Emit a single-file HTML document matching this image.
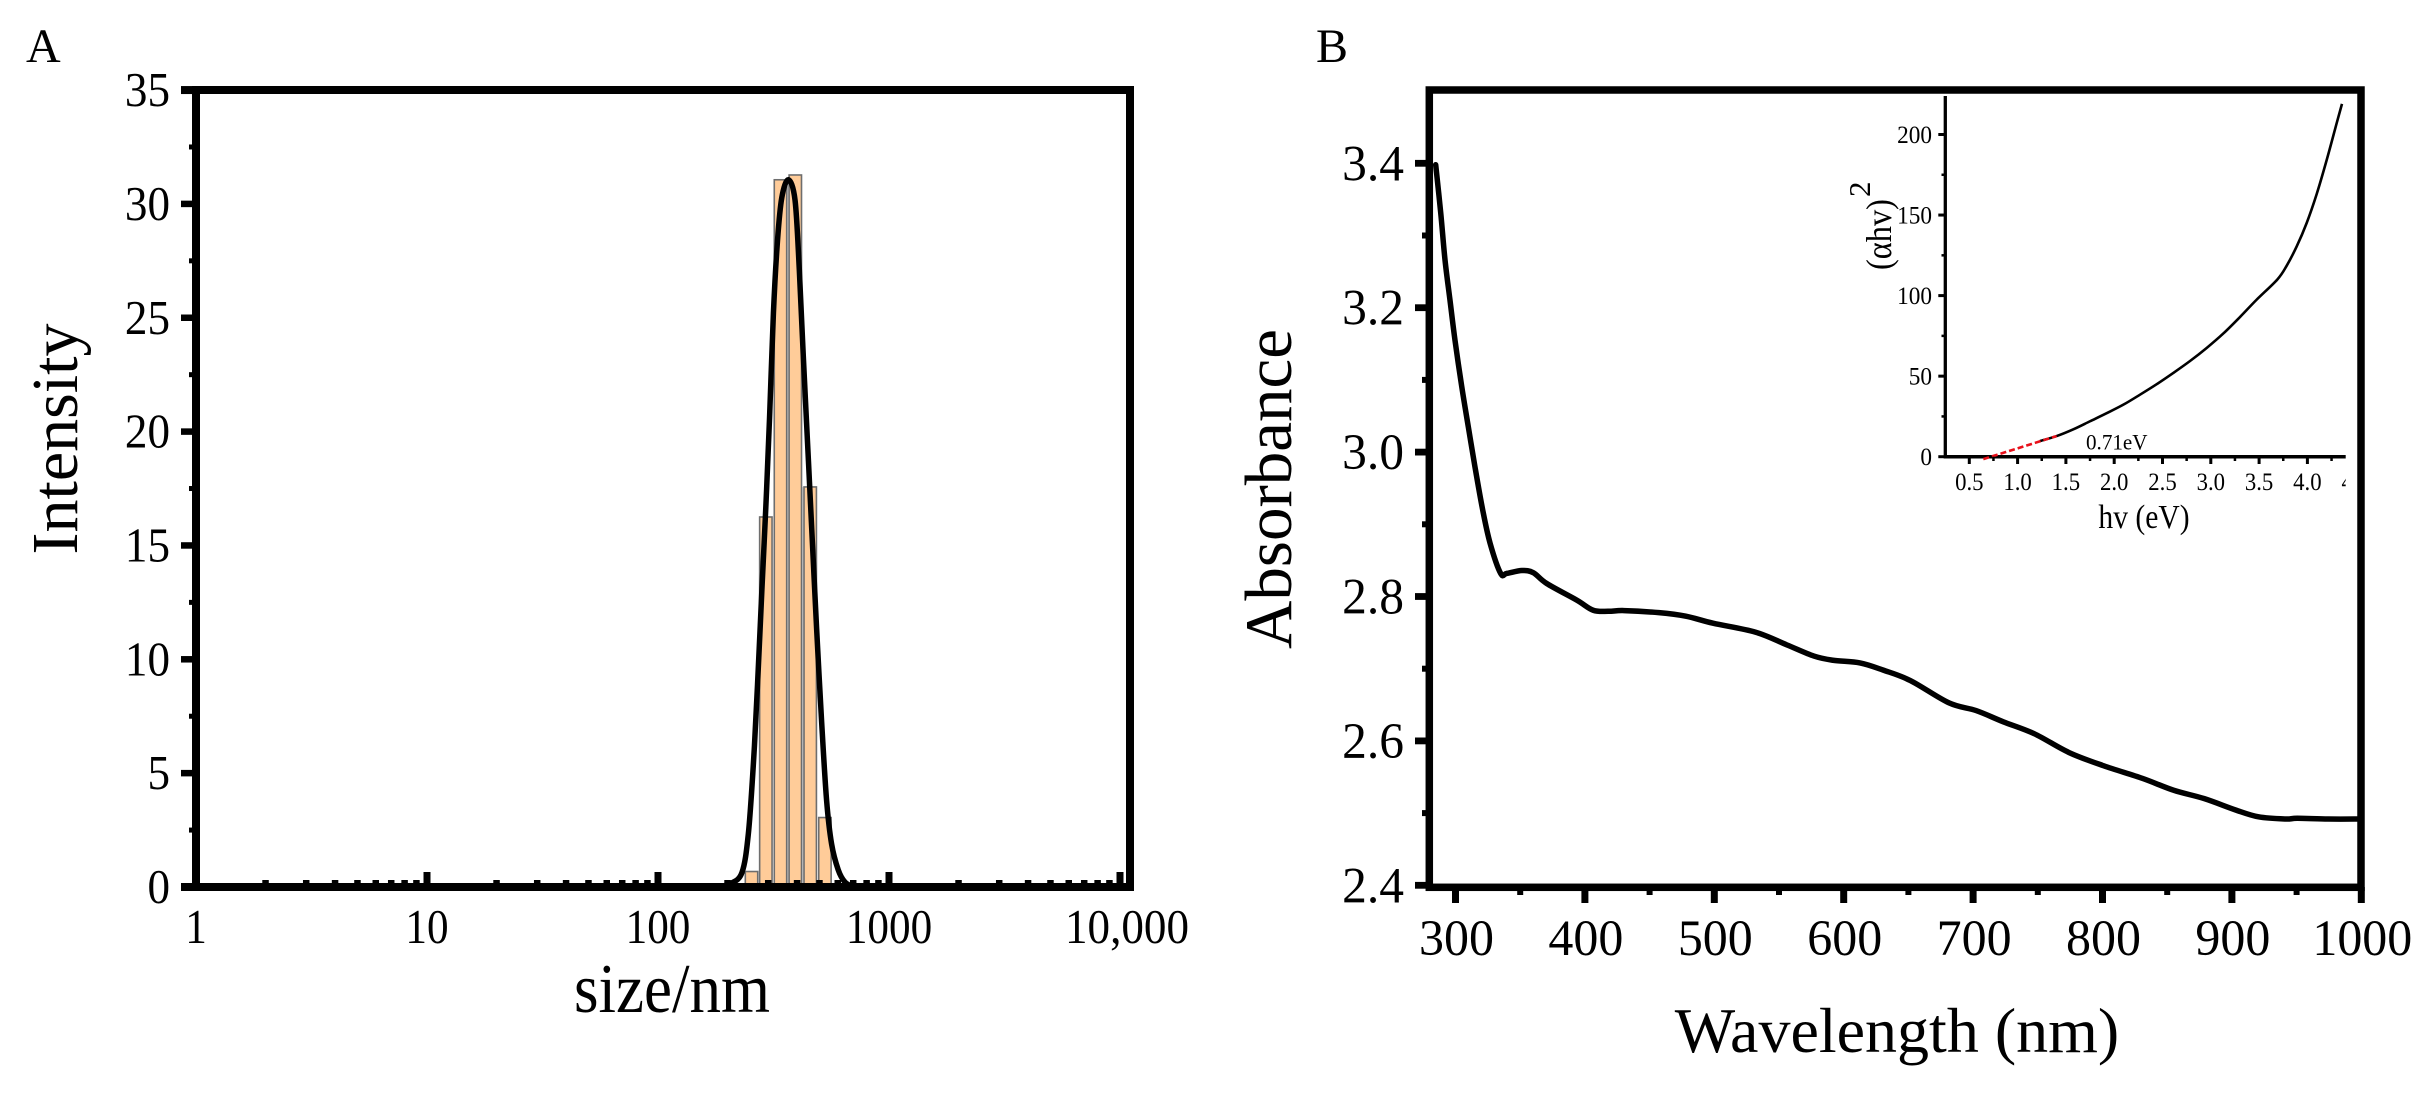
<!DOCTYPE html>
<html lang="en">
<head>
<meta charset="utf-8">
<title>Size distribution and absorbance spectrum</title>
<style>
html,body{margin:0;padding:0;background:#fff;}
svg{display:block;}
text{font-family:"Liberation Serif",serif;fill:#000;}
</style>
</head>
<body>
<svg id="fig" xmlns="http://www.w3.org/2000/svg" width="2427" height="1096" viewBox="0 0 2427 1096">
  <rect x="0" y="0" width="2427" height="1096" fill="#fff"/>
  <defs><clipPath id="insetClip"><rect x="1900" y="460" width="445.7" height="50"/></clipPath></defs>

  <g id="panelA"></g>
  <g id="panelB"></g>
  <g id="inset"></g>
  <g id="insetXLabels" clip-path="url(#insetClip)"></g>

  <text x="26" y="62" font-size="48">A</text>
  <text x="1316" y="62" font-size="48">B</text>

  <text transform="translate(672,1012) scale(0.9,1)" text-anchor="middle" font-size="70">size/nm</text>
  <text transform="translate(77,439) rotate(-90)" text-anchor="middle" font-size="66">Intensity</text>
  <text transform="translate(1291,489) rotate(-90)" text-anchor="middle" font-size="67">Absorbance</text>
  <text transform="translate(1897,1052) scale(1,1)" text-anchor="middle" font-size="64">Wavelength (nm)</text>

  <text transform="translate(2144,528) scale(0.87,1)" text-anchor="middle" font-size="34">hv (eV)</text>
  <text transform="translate(1891,270) rotate(-90) scale(0.9,1)" font-size="36">(αhv)</text>
  <text transform="translate(1870,197) rotate(-90)" font-size="31">2</text>
  <text transform="translate(2086,449.5) scale(0.96,1)" font-size="22">0.71eV</text>
</svg>

<script>
/* ---------- Panel A data ---------- */
const barSizes = [254, 293, 339, 393, 456, 528];
const barIntensities = [0.68, 16.25, 31.06, 31.27, 17.57, 3.05];
const fitSizes = [180, 206, 231, 246, 259, 269.5, 281.6, 293, 304, 316, 329, 343.4, 366.7, 392, 409, 425.5, 448, 467, 486, 511.6, 537, 564, 603, 644, 700];
const fitIntensities = [0, 0.15, 0.64, 2.32, 5.47, 8.83, 13.03, 16.71, 20.6, 25.22, 28.37, 30.27, 31.06, 30.16, 27.11, 23.33, 18.71, 14.93, 11.35, 7.16, 3.79, 1.9, 0.75, 0.22, 0];
const sizeMajorTicks = [1, 10, 100, 1000, 10000];
const sizeTickLabels = ["1", "10", "100", "1000", "10,000"];
const sizeMinorMultipliers = [2, 3, 4, 5, 6, 7, 8, 9];
const intensityTicks = [0, 5, 10, 15, 20, 25, 30, 35];
const intensityMinorTicks = [2.5, 7.5, 12.5, 17.5, 22.5, 27.5, 32.5];

/* ---------- Panel B data ---------- */
const wavelengths = [284.7, 288.6, 291.9, 295.7, 299.6, 304.8, 309.9, 315, 321, 326.7, 334.9, 339.6, 351.2, 360.1, 370.5, 393.7, 406.4, 418.3, 430.3, 457.2, 478, 499, 532, 556, 577, 591.7, 612.6, 630.6, 651.5, 681.4, 702.3, 723.3, 747.2, 774, 801, 831, 855, 878.7, 902.6, 920.6, 941.5, 950.5, 974.4, 1000];
const absorbance = [3.398, 3.331, 3.266, 3.211, 3.155, 3.091, 3.035, 2.98, 2.92, 2.874, 2.832, 2.832, 2.836, 2.833, 2.818, 2.795, 2.781, 2.7795, 2.7805, 2.7776, 2.7727, 2.763, 2.7505, 2.733, 2.7175, 2.7117, 2.708, 2.698, 2.6836, 2.6526, 2.642, 2.6265, 2.61, 2.584, 2.5655, 2.548, 2.5316, 2.52, 2.5045, 2.4948, 2.4918, 2.4928, 2.4918, 2.4918];
const waveMajorTicks = [300, 400, 500, 600, 700, 800, 900, 1000];
const waveMinorTicks = [350, 450, 550, 650, 750, 850, 950];
const absMajorTicks = [2.4, 2.6, 2.8, 3.0, 3.2, 3.4];
const absMinorTicks = [2.5, 2.7, 2.9, 3.1, 3.3];

/* ---------- Inset data ---------- */
const hv = [1.232, 1.404, 1.577, 1.75, 1.922, 2.095, 2.267, 2.44, 2.612, 2.785, 2.957, 3.13, 3.302, 3.475, 3.689, 3.785, 3.889, 3.992, 4.096, 4.199, 4.303, 4.358];
const tauc = [9.7, 12.8, 17, 22, 27, 32.3, 38.5, 45, 52, 59.4, 67.5, 76.5, 86.7, 97.5, 110, 118.5, 130.5, 145, 163, 184, 207, 219];
const fitHv = [0.645, 1.404];
const fitTauc = [-1.5, 12.8];
const hvMajorTicks = [0.5, 1.0, 1.5, 2.0, 2.5, 3.0, 3.5, 4.0, 4.5];
const hvMinorTicks = [0.75, 1.25, 1.75, 2.25, 2.75, 3.25, 3.75, 4.25];
const taucMajorTicks = [0, 50, 100, 150, 200];
const taucMinorTicks = [25, 75, 125, 175];

/* ---------- Axis functions ---------- */
const xA = s => 196 + Math.log10(s) * 231;
const yA = v => 887 - v * 22.77;
const xB = w => 1455.5 + (w - 300) * 1.2940;
const yB = v => 163.3 + (3.4 - v) * 722;
const xI = e => 1969.3 + (e - 0.5) * 96.6;
const yI = t => 456.7 - t * 1.611;

const NS = 'http://www.w3.org/2000/svg';
function add(parent, tag, attrs, txt) {
  const el = document.createElementNS(NS, tag);
  for (const k in attrs) el.setAttribute(k, attrs[k]);
  if (txt !== undefined) el.textContent = txt;
  parent.appendChild(el);
  return el;
}
function vline(parent, x, y1, y2, w) {
  return add(parent, 'line', {x1: x, x2: x, y1: y1, y2: y2, stroke: '#000', 'stroke-width': w});
}
function hline(parent, y, x1, x2, w) {
  return add(parent, 'line', {x1: x1, x2: x2, y1: y, y2: y, stroke: '#000', 'stroke-width': w});
}
function label(parent, x, y, sx, size, anchor, txt) {
  return add(parent, 'text', {transform: 'translate(' + x + ',' + y + ') scale(' + sx + ',1)', 'text-anchor': anchor, 'font-size': size}, txt);
}
function polyPath(xs, ys) {
  return xs.map((x, i) => (i ? 'L' : 'M') + x.toFixed(2) + ' ' + ys[i].toFixed(2)).join(' ');
}
function smoothPath(xs, ys) {
  let d = 'M' + xs[0].toFixed(2) + ' ' + ys[0].toFixed(2);
  for (let i = 0; i < xs.length - 1; i++) {
    const a = Math.max(i - 1, 0), b = Math.min(i + 2, xs.length - 1);
    const c1x = xs[i] + (xs[i + 1] - xs[a]) / 6, c1y = ys[i] + (ys[i + 1] - ys[a]) / 6;
    const c2x = xs[i + 1] - (xs[b] - xs[i]) / 6, c2y = ys[i + 1] - (ys[b] - ys[i]) / 6;
    d += ' C' + c1x.toFixed(2) + ' ' + c1y.toFixed(2) + ' ' + c2x.toFixed(2) + ' ' + c2y.toFixed(2) + ' ' + xs[i + 1].toFixed(2) + ' ' + ys[i + 1].toFixed(2);
  }
  return d;
}

/* ---------- Panel A ---------- */
const gA = document.getElementById('panelA');
const barHalf = 6.2;
for (let i = 2; i < 4; i++) {
  const gx1 = xA(barSizes[i]) + barHalf, gx2 = xA(barSizes[i + 1]) - barHalf;
  const gy = yA(Math.min(barIntensities[i], barIntensities[i + 1]));
  const gap = add(gA, 'rect', {x: gx1, y: gy, width: gx2 - gx1, height: 887 - gy, fill: '#d2d2d2'});
  
  
}
barSizes.forEach((s, i) => {
  const top = yA(barIntensities[i]);
  const bar = add(gA, 'rect', {x: xA(s) - barHalf, y: top, width: barHalf * 2, height: 887 - top, fill: '#FFCC99', stroke: '#6e6e6e', 'stroke-width': 1.6});
  
  
});
const fitLine = add(gA, 'path', {d: smoothPath(fitSizes.map(xA), fitIntensities.map(yA)), fill: 'none', stroke: '#000', 'stroke-width': 5.5, 'stroke-linejoin': 'round', 'stroke-linecap': 'round'});



const frameA = add(gA, 'rect', {x: 196, y: 90, width: 934, height: 797, fill: 'none', stroke: '#000', 'stroke-width': 8});



sizeMajorTicks.forEach((s, i) => {
  if (i > 0) {
    const t = vline(gA, xA(s), 872, 887, 7);
    
    
  }
  const lx = i === 4 ? xA(s) + 7 : xA(s);
  const sx = i === 4 ? 0.93 : 0.89;
  const lab = label(gA, lx, 943, sx, 48.5, 'middle', sizeTickLabels[i]);
  
  
  if (i < 4) {
    sizeMinorMultipliers.forEach(m => {
      const mt = vline(gA, xA(s * m), 880, 887, 6.5);
      
      
    });
  }
});
intensityTicks.forEach(v => {
  const t = hline(gA, yA(v), 181, 196, v === 0 || v === 35 ? 8 : 6.5);
  
  
  const lab = label(gA, 170, yA(v) + 16, 0.93, 48.5, 'end', String(v));
  
  
});
intensityMinorTicks.forEach(v => {
  const t = hline(gA, yA(v), 189, 196, 5);
  
  
});

/* ---------- Panel B ---------- */
const gB = document.getElementById('panelB');
const absLine = add(gB, 'path', {d: smoothPath(wavelengths.map(xB), absorbance.map(yB)), fill: 'none', stroke: '#000', 'stroke-width': 5.5, 'stroke-linejoin': 'round', 'stroke-linecap': 'round'});



const frameB = add(gB, 'rect', {x: 1429.3, y: 90, width: 931.7, height: 797.3, fill: 'none', stroke: '#000', 'stroke-width': 7.5});



waveMajorTicks.forEach(w => {
  const t = vline(gB, xB(w), 887, 903, 7);
  
  
  const lab = label(gB, xB(w) + 1, 955, 0.98, 51, 'middle', String(w));
  
  
});
waveMinorTicks.forEach(w => {
  const t = vline(gB, xB(w), 887, 895, 6);
  
  
});
absMajorTicks.forEach(v => {
  const t = hline(gB, yB(v), 1415, 1429, 6.8);
  
  
  const lab = label(gB, 1404, yB(v) + 17, 0.97, 51, 'end', v.toFixed(1));
  
  
});
absMinorTicks.forEach(v => {
  const t = hline(gB, yB(v), 1422, 1429, 6);
  
  
});

/* ---------- Inset ---------- */
const gI = document.getElementById('inset');
const gIL = document.getElementById('insetXLabels');
const yAxisI = vline(gI, 1945.3, 96, 458.5, 3.3);


const xAxisI = hline(gI, 456.7, 1945.3, 2345.7, 3.5);



const taucLine = add(gI, 'path', {d: smoothPath(hv.map(xI), tauc.map(yI)), fill: 'none', stroke: '#000', 'stroke-width': 2.6, 'stroke-linejoin': 'round'});


const fitI = add(gI, 'path', {d: polyPath(fitHv.map(xI), fitTauc.map(yI)), fill: 'none', stroke: '#e8101a', 'stroke-width': 2.6, 'stroke-dasharray': '6 3'});



hvMajorTicks.forEach(e => {
  const lab = label(gIL, xI(e), 490, 0.91, 25, 'middle', e.toFixed(1));
  
  
  if (e < 4.4) {
    const t = vline(gI, xI(e), 456.7, 464, 3);
    
    
  }
});
hvMinorTicks.forEach(e => {
  const t = vline(gI, xI(e), 456.7, 461, 2.5);
  
  
});
taucMajorTicks.forEach(v => {
  const t = hline(gI, yI(v), 1938.3, 1945.3, 3);
  
  
  const lab = label(gI, 1932, yI(v) + 8.5, 0.93, 25, 'end', String(v));
  
  
});
taucMinorTicks.forEach(v => {
  const t = hline(gI, yI(v), 1941.5, 1945.3, 2.5);
  
  
});
</script>
</body>
</html>
